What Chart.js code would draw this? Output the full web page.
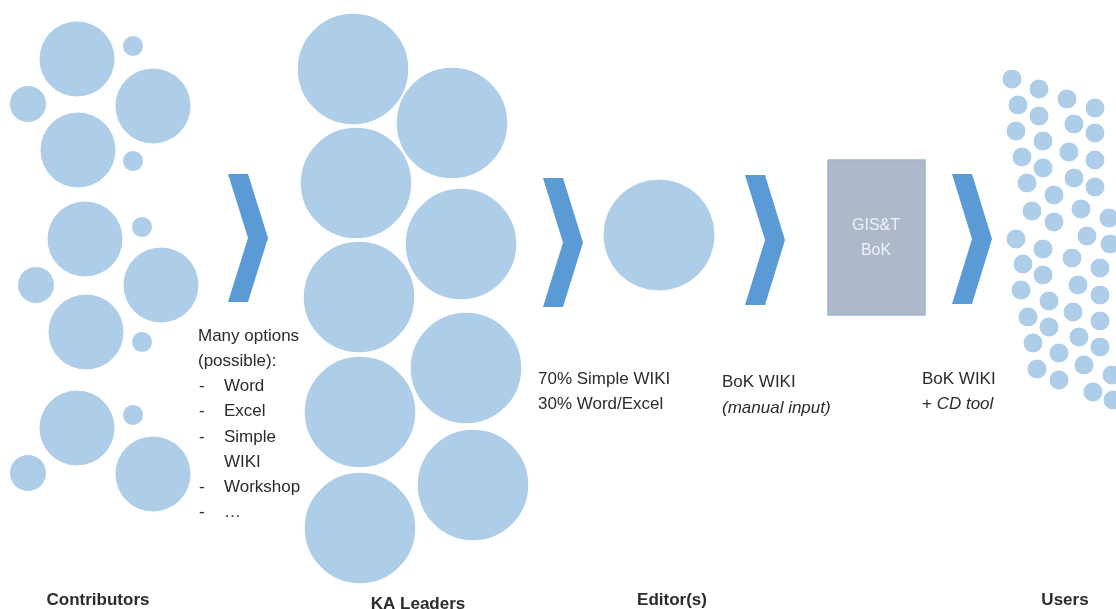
<!DOCTYPE html>
<html>
<head>
<meta charset="utf-8">
<script src="https://cdn.jsdelivr.net/npm/chart.js@4.4.1/dist/chart.umd.min.js"></script>
<style>
  html, body { margin: 0; padding: 0; background: #fff; }
  #wrap { width: 1116px; height: 609px; position: relative; }
</style>
</head>
<body>
<div id="wrap"><canvas id="chart-flujo"></canvas></div>
<script>
  // circles: [x, y, radius]
  const contributors = [
    [77, 59, 38], [133, 46, 10.5], [28, 104, 18.5], [153, 106, 38], [78, 150, 38], [133, 161, 10.5],
    [85, 239, 38], [142, 227, 10.5], [36, 285, 18.5], [161, 285, 38], [86, 332, 38], [142, 342, 10.5],
    [77, 428, 38], [133, 415, 10.5], [28, 473, 18.5], [153, 474, 38]
  ];
  const kaLeaders = [
    [353, 69, 56], [452, 123, 56], [356, 183, 56], [461, 244, 56], [359, 297, 56],
    [466, 368, 56], [360, 412, 56], [473, 485, 56], [360, 528, 56]
  ];
  const editors = [[659, 235, 56]];
  const users = [
    [1012, 79], [1039, 89], [1067, 99], [1095, 108], [1018, 105], [1039, 116], [1074, 124], [1095, 133],
    [1016, 131], [1043, 141], [1069, 152], [1095, 160], [1022, 157], [1043, 168], [1074, 178], [1095, 187],
    [1027, 183], [1054, 195], [1081, 209], [1109, 218], [1032, 211], [1054, 222], [1087, 236], [1110, 244],
    [1016, 239], [1043, 249], [1072, 258], [1100, 268], [1023, 264], [1043, 275], [1078, 285], [1100, 295],
    [1021, 290], [1049, 301], [1073, 312], [1100, 321], [1028, 317], [1049, 327], [1079, 337], [1100, 347],
    [1033, 343], [1059, 353], [1084, 365], [1112, 375], [1037, 369], [1059, 380], [1093, 392], [1113, 400]
  ];
  const userRadius = 10;

  // chevrons: [left x, top y, bottom y, arm width, depth]
  const chevrons = [
    [228, 174, 302, 20, 40],
    [543, 178, 307, 20, 40],
    [745, 175, 305, 20, 40],
    [952, 174, 304, 20, 40]
  ];
  // box: [x1, y1, x2, y2]
  const bokBox = [828, 160, 925, 315];

  const circleColor = '#aecde9';
  const chevronColor = '#5b9bd5';

  const toPoints = arr => arr.map(([x, y, r]) => ({ x, y, r: r ?? userRadius }));

  const chevronDatasets = chevrons.map(([x, top, bottom, w, d]) => {
    let mid = (top + bottom) / 2;
    return {
      type: 'line',
      data: [
        { x: x, y: top }, { x: x + w, y: top }, { x: x + d, y: mid },
        { x: x + w, y: bottom }, { x: x, y: bottom }, { x: x + d - w, y: mid }, { x: x, y: top }
      ],
      backgroundColor: chevronColor,
      borderWidth: 0,
      pointRadius: 0,
      fill: 'shape',
      tension: 0,
      clip: false
    };
  });

  let [bx1, by1, bx2, by2] = bokBox;
  let boxDataset = {
    type: 'line',
    data: [{ x: bx1, y: by1 }, { x: bx2, y: by1 }, { x: bx2, y: by2 }, { x: bx1, y: by2 }, { x: bx1, y: by1 }],
    backgroundColor: '#adb9ca',
    borderColor: '#9db2d2',
    borderWidth: 1.5,
    pointRadius: 0,
    fill: 'shape',
    tension: 0,
    clip: false
  };

  /* ============ TEXTOS ============ */
  const textos = {
    id: 'textos',
    afterDraw(chart) {
      let ctx = chart.ctx;
      ctx.save();
      ctx.textBaseline = 'middle';
      ctx.fillStyle = '#2b2b2b';
      ctx.font = '17px "Liberation Sans", Arial, sans-serif';
      ctx.textAlign = 'left';

      ctx.fillText('Many options', 198, 336);
      ctx.fillText('(possible):', 198, 361);
      let items = [['-', 'Word', 386], ['-', 'Excel', 411], ['-', 'Simple', 437], ['', 'WIKI', 462], ['-', 'Workshop', 487], ['-', '…', 512]];
      items.forEach(([dash, txt, y]) => {
        if (dash) ctx.fillText(dash, 199, y);
        ctx.fillText(txt, 224, y);
      });

      ctx.fillText('70% Simple WIKI', 538, 379);
      ctx.fillText('30% Word/Excel', 538, 404);

      ctx.fillText('BoK WIKI', 722, 382);
      ctx.font = 'italic 17px "Liberation Sans", Arial, sans-serif';
      ctx.fillText('(manual input)', 722, 408);

      ctx.font = '17px "Liberation Sans", Arial, sans-serif';
      ctx.fillText('BoK WIKI', 922, 379);
      ctx.fillText('+ ', 922, 404);
      let plusW = ctx.measureText('+ ').width;
      ctx.font = 'italic 17px "Liberation Sans", Arial, sans-serif';
      ctx.fillText('CD tool', 922 + plusW, 404);

      ctx.textAlign = 'center';
      ctx.font = 'bold 17px "Liberation Sans", Arial, sans-serif';
      ctx.fillText('Contributors', 98, 600);
      ctx.fillText('KA Leaders', 418, 604);
      ctx.fillText('Editor(s)', 672, 600);
      ctx.fillText('Users', 1065, 600);

      ctx.fillStyle = '#eef1f6';
      ctx.font = '16px "Liberation Sans", Arial, sans-serif';
      ctx.fillText('GIS&T', 876, 226);
      ctx.fillText('BoK', 876, 251);
      ctx.restore();
    }
  };

  let canvas = document.getElementById('chart-flujo').getContext('2d');

  let flujoChart = new Chart(canvas, {
    type: 'bubble',
    data: {
      datasets: [
        ...chevronDatasets,
        boxDataset,
        { data: toPoints(contributors), backgroundColor: circleColor, borderColor: '#fff', borderWidth: 1, clip: false },
        { data: toPoints(kaLeaders), backgroundColor: circleColor, borderColor: '#fff', borderWidth: 1.5, clip: false },
        { data: toPoints(editors), backgroundColor: circleColor, borderColor: '#fff', borderWidth: 1, clip: false },
        { data: toPoints(users), backgroundColor: circleColor, borderColor: '#fff', borderWidth: 1, clip: false }
      ]
    },
    options: {
      responsive: true,
      maintainAspectRatio: false,
      animation: false,
      events: [],
      layout: { padding: 0, autoPadding: false },
      plugins: { legend: { display: false }, tooltip: { enabled: false } },
      scales: {
        x: { type: 'linear', min: 0, max: 1116, display: false },
        y: { type: 'linear', min: 0, max: 609, reverse: true, display: false }
      }
    },
    plugins: [textos]
  });
</script>
</body>
</html>
